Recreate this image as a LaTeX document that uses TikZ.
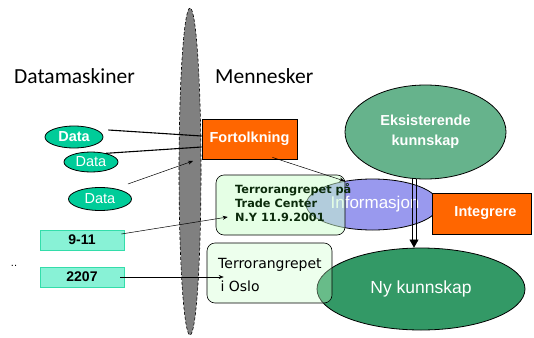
\documentclass[tikz,border=0pt]{standalone}
\usepackage{fontspec}
\setmainfont{Liberation Sans}
\newfontfamily\headfont{Carlito}
\newfontfamily\handfont{DejaVu Sans}
\usetikzlibrary{shapes.geometric,arrows.meta}
\definecolor{fortorange}{HTML}{FF6600}
\definecolor{datagreen}{HTML}{00CC99}
\definecolor{tallfill}{HTML}{88F2D6}
\definecolor{tallkant}{HTML}{33DDAA}
\definecolor{lysgronn}{HTML}{CCFFCC}
\definecolor{eksgronn}{HTML}{66B38C}
\definecolor{infoblaa}{HTML}{9999EE}
\definecolor{nygronn}{HTML}{339966}
\definecolor{morkgronn}{HTML}{0B2B0B}

\begin{document}
\begin{tikzpicture}[x=1pt,y=-1pt,
                every node/.style = {inner sep=0pt},
                overskrift/.style = {font=\headfont\fontsize{21.5}{24}\selectfont, anchor=base west},
                data/.style = {ellipse, draw, line width=0.8pt, fill=datagreen, text=white, font=\fontsize{14.5}{17}\selectfont},
                orangeboks/.style = {rectangle, draw, line width=0.8pt, fill=fortorange, text=white, font=\bfseries\fontsize{14.5}{17}\selectfont},
                tallboks/.style = {rectangle, draw=tallkant, line width=0.8pt, fill=tallfill, minimum width=84pt, minimum height=20pt, font=\bfseries\fontsize{14}{16}\selectfont},
                hendelse/.style = {rectangle, rounded corners=8pt, draw, line width=0.6pt, fill=lysgronn, fill opacity=0.5},
                kunnskap/.style = {ellipse, draw, line width=0.8pt, text=white, align=center},
                strek/.style = {line width=1.1pt},
                tynnpil/.style = {line width=0.5pt, -{Stealth[length=5pt,width=4pt]}},
                pil/.style = {line width=0.9pt}
                ]
                \useasboundingbox (0,0) rectangle (534,337);
                \node[ellipse, draw, dash pattern=on 3pt off 2pt, line width=0.6pt, fill=gray,
                      minimum width=22pt, minimum height=327pt] (vegg) at (190,171.5) {};
                \coordinate (veggpunkt) at (193,161);

                \node[overskrift] (maskin) at (14,83) {Datamaskiner};
                \node[overskrift] (menneske) at (215,83) {Mennesker};

                \node[data, minimum width=58pt, minimum height=22pt, font=\bfseries\fontsize{14.5}{17}\selectfont] (data1) at (74,137) {Data};
                \node[data, minimum width=54pt, minimum height=20pt] (data2) at (91,162) {Data};
                \node[data, minimum width=63pt, minimum height=23pt] (data3) at (100,199) {Data};

                \node[orangeboks, minimum width=95pt, minimum height=40pt] (fort) at (249.5,139) {Fortolkning};

                \draw[strek] ([shift={(5,-7)}]data1.east) -- ([shift={(0,-3)}]fort.west);
                \draw[strek] (data2.30) -- ([shift={(0,8)}]fort.west);
                \draw[tynnpil] ([shift={(-4,-15)}]data3.east) -- (veggpunkt);

                \node[tallboks] (ti) at (82,240) {9-11};
                \node[tallboks] (toto) at (82,277) {2207};
                \node[font=\fontsize{11}{12}\selectfont] (prikker) at (14,266) {..};

                \node[kunnskap, fill=eksgronn, minimum width=161pt, minimum height=94pt,
                      font=\bfseries\fontsize{14.5}{20}\selectfont] (eks) at (425.5,132) {Eksisterende\\kunnskap};
                \node[kunnskap, fill=infoblaa, minimum width=119pt, minimum height=51pt,
                      font=\fontsize{17}{20}\selectfont] (info) at (372.5,204.5) {\hspace{5pt}Informasjon};

                \node[hendelse, minimum width=129pt, minimum height=60pt] (tc) at (280.5,205) {};
                \node[anchor=north west, align=left, text=morkgronn,
                      font=\handfont\bfseries\fontsize{11.3}{14}\selectfont] (tctekst) at (235,183)
                      {Terrorangrepet på\\Trade Center\\N.Y 11.9.2001};

                \node[orangeboks, minimum width=99pt, minimum height=41pt] (integ) at (481.5,213.5) {\hspace{8pt}Integrere};

                \node[kunnskap, fill=nygronn, minimum width=208pt, minimum height=82pt,
                      font=\fontsize{17.5}{20}\selectfont] (ny) at (421,289) {Ny kunnskap};

                \node[hendelse, fill opacity=0.35, minimum width=125pt, minimum height=60pt] (oslo) at (269.5,273) {};
                \node[anchor=north west, align=left,
                      font=\handfont\fontsize{14}{23}\selectfont] (oslotekst) at (218,258)
                      {Terrorangrepet\\\,i Oslo};

                \draw[tynnpil] ([shift={(-25,-2)}]fort.south east) -- (info.140);
                \draw[tynnpil] ([shift={(-3,-6)}]ti.east) -- ([shift={(12,12)}]tc.west);
                \draw[tynnpil] ([xshift=-4pt]toto.east) -- ([shift={(17,4)}]oslo.west);

                \coordinate (pilstart) at ([xshift=-11.5pt]eks.south);
                \coordinate (pilslutt) at (pilstart |- ny.north);
                \draw[pil] ([xshift=-2pt]pilstart) -- ([shift={(-2,-6)}]pilslutt);
                \draw[pil] ([xshift=2pt]pilstart) -- ([shift={(2,-6)}]pilslutt);
                \draw[-{Triangle[length=8pt,width=9pt]}] ([yshift=8pt]pilslutt) -- (pilslutt);
            \end{tikzpicture}
\end{document}
